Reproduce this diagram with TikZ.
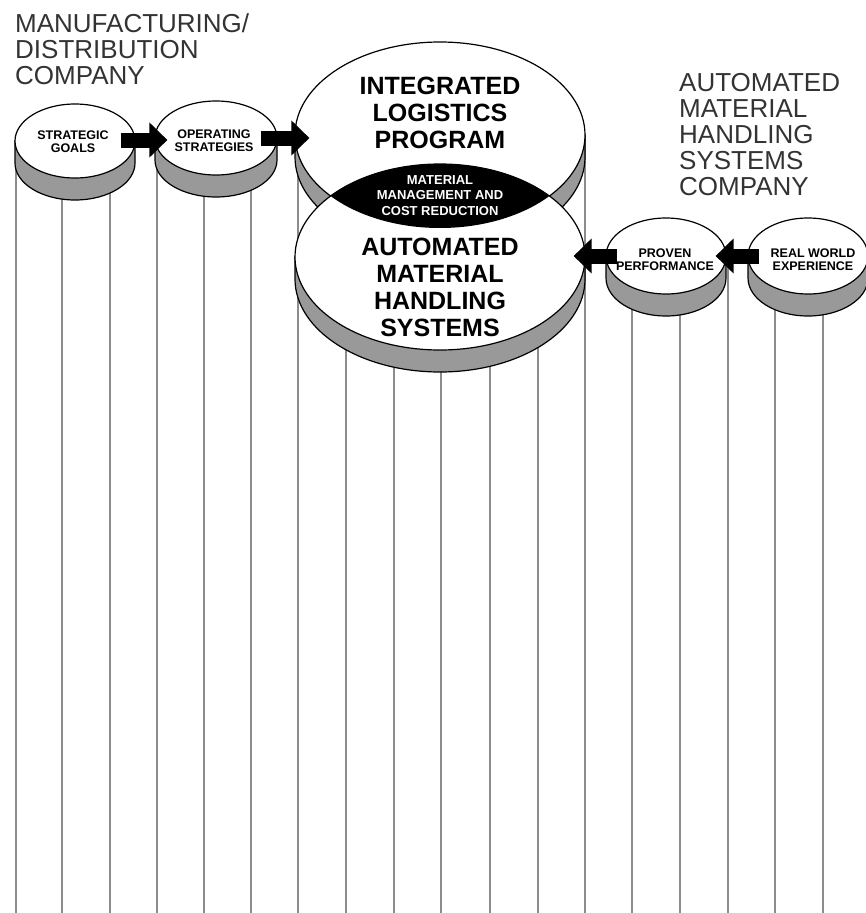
\documentclass[tikz,border=0pt]{standalone}
\usepackage{fontspec}
\newfontfamily\hv{Liberation Sans}
\usetikzlibrary{shapes.geometric,arrows.meta,calc}
\newcommand\discband[5]{%
  \filldraw[band] (#1-#3,-#2) -- (#1-#3,-#2-#5)
    arc[start angle=180,end angle=360,x radius=#3,y radius=#4]
    -- (#1+#3,-#2) -- cycle;}
\begin{document}
\begin{tikzpicture}[x=1pt,y=1pt,
  band/.style={fill=black!40, draw=black, line width=1.2pt},
  face/.style={ellipse, draw=black, fill=white, line width=1.2pt, inner sep=0pt},
  col/.style={draw=black!45, line width=1.3pt},
  arr/.style={draw=black, line width=15pt, -{Triangle[length=18pt 0, width=34pt 0]}},
  head/.style={font=\hv\fontsize{26}{26}\selectfont, text=black!80, align=left, inner sep=0pt, anchor=north west},
  small/.style={font=\hv\bfseries\fontsize{12.5}{13}\selectfont, align=center, inner sep=0pt},
  big/.style={font=\hv\bfseries\fontsize{25}{27}\selectfont, align=center, inner sep=0pt},
  lenstext/.style={font=\hv\bfseries\fontsize{13}{15.5}\selectfont, text=white, align=center, inner sep=0pt}]
\useasboundingbox (0,0) rectangle (865,-913);

% column lines
\foreach \x/\y in {16/141,62/141,110/141,157/138,204/138,251/138,298/135,
  346/257,394/257,441/257,490/257,538/257,585/135,632/256,680/256,728/256,775/256,823/256}
  \draw[col] (\x,-\y) -- (\x,-913);

% small discs
\discband{75}{141}{60}{37}{22}
\node[face, minimum width=120pt, minimum height=74pt] (sg) at (75,-141) {};
\discband{216}{138}{61}{37}{22}
\node[face, minimum width=122pt, minimum height=74pt] (os) at (216,-138) {};
\discband{666}{256}{60}{38}{22}
\node[face, minimum width=120pt, minimum height=76pt] (pp) at (666,-256) {};
\discband{808}{256}{60}{38}{22}
\node[face, minimum width=120pt, minimum height=76pt] (rwe) at (808,-256) {};

% big discs
\discband{440}{135}{145}{93}{22}
\node[face, minimum width=290pt, minimum height=186pt] (ilp) at (440,-135) {};
\discband{440}{257}{145}{93}{22}
\node[face, minimum width=290pt, minimum height=186pt] (amhs) at (440,-257) {};
\begin{scope}
  \clip (440,-135) ellipse [x radius=145, y radius=93];
  \fill[black] (440,-257) ellipse [x radius=145, y radius=93];
\end{scope}

% texts
\node[head] (mdc) at (15,-13) {MANUFACTURING/\\DISTRIBUTION\\COMPANY};
\node[head] (amc) at (679,-73) {AUTOMATED\\MATERIAL\\HANDLING\\SYSTEMS\\COMPANY};
\node[small] (sgt) at (73,-141.5) {STRATEGIC\\GOALS};
\node[small] (ost) at (214,-141) {OPERATING\\STRATEGIES};
\node[small] (ppt) at (665,-260) {PROVEN\\PERFORMANCE};
\node[small] (rwet) at (813,-260) {REAL WORLD\\EXPERIENCE};
\node[big] (ilpt) at (440,-113) {INTEGRATED\\LOGISTICS\\PROGRAM};
\node[big] (amhst) at (440,-287) {AUTOMATED\\MATERIAL\\HANDLING\\SYSTEMS};
\node[lenstext] (mmcr) at (440,-195.5) {MATERIAL\\MANAGEMENT AND\\COST REDUCTION};

% arrows
\draw[arr] ($(sg.east)+(-15,1)$) -- ($(sg.east -| os.west)+(13,1)$);
\draw[arr] ($(os.east)+(-17,0)$) -- ($(os.east -| ilp.west)+(15,0)$);
\draw[arr] ($(rwe.west)+(12,0)$) -- ($(pp.east)+(-11,0)$);
\draw[arr] ($(pp.west)+(12,0)$) -- ($(pp.west -| amhs.east)+(-12,0)$);
\end{tikzpicture}
\end{document}
